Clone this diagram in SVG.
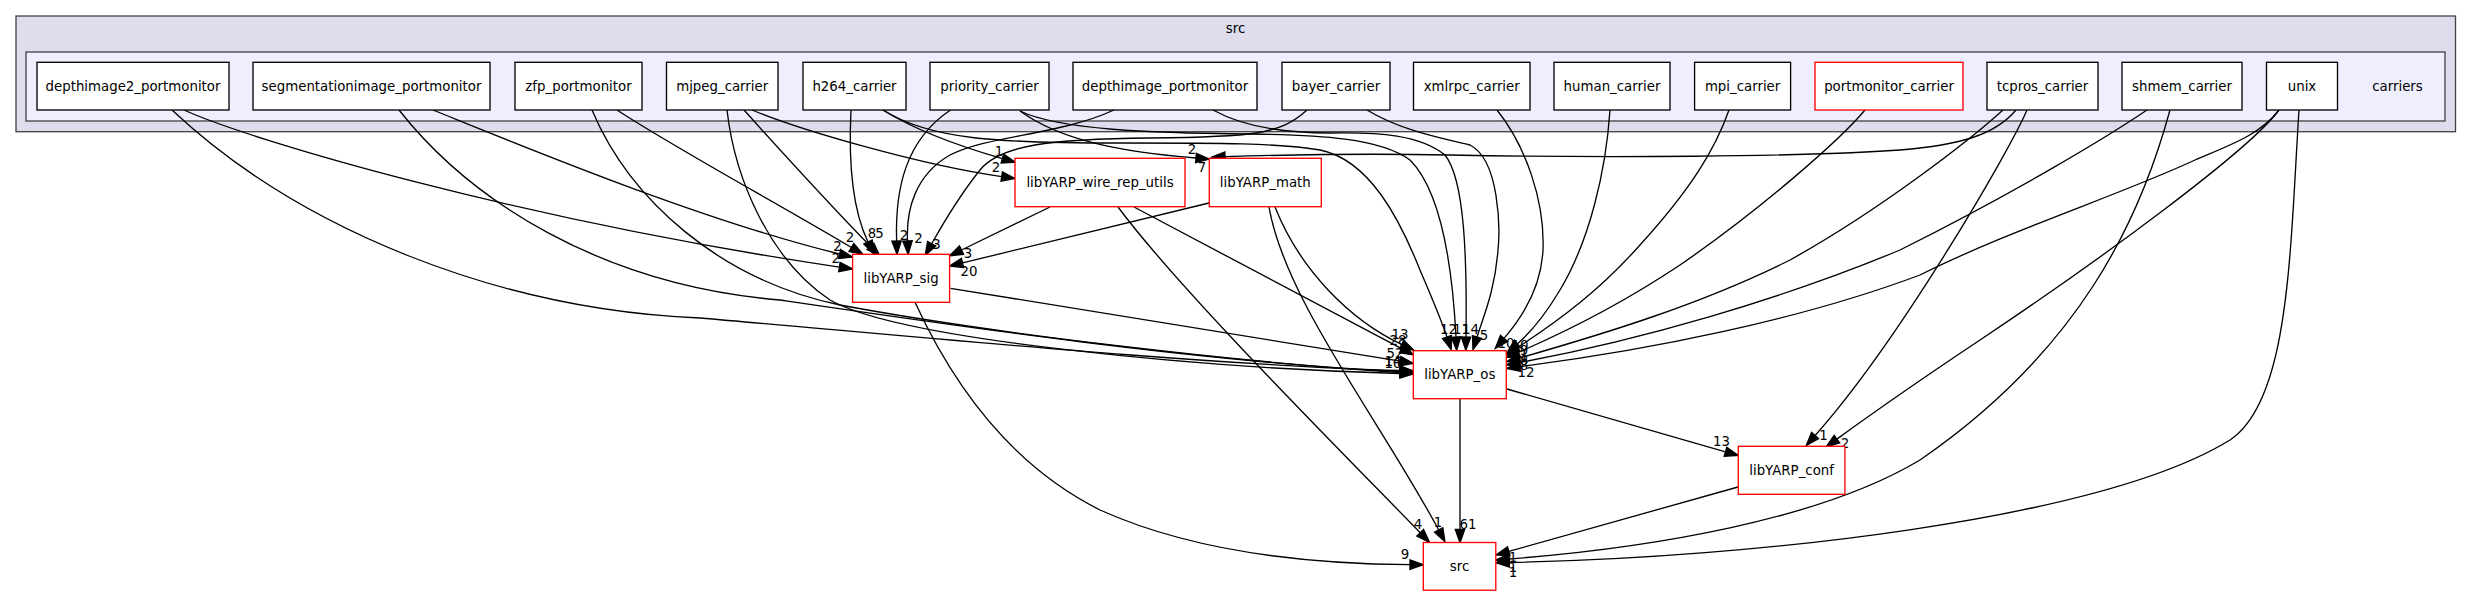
<svg xmlns="http://www.w3.org/2000/svg" width="2472" height="596" viewBox="0 0 2472 596">
<style>
text{font-family:"DejaVu Sans",Verdana,sans-serif;font-size:13.33px;fill:#000}
.n text,.c{text-anchor:middle}
.b{fill:#fff;stroke:#000;stroke-width:1.33}
.r{fill:#fff;stroke:#ff0000;stroke-width:1.33}
.e path{fill:none;stroke:#000;stroke-width:1.33;marker-end:url(#ah)}
.l text{text-anchor:middle}
</style>
<defs>
<marker id="ah" markerUnits="userSpaceOnUse" markerWidth="16" markerHeight="12" refX="0" refY="0" orient="auto" viewBox="0 -6 16 12" overflow="visible">
<path d="M0,-4.7 L13.3,0 L0,4.7 z" fill="#000" stroke="#000" stroke-width="1.33"/>
</marker>
</defs>
<rect width="2472" height="596" fill="#fff"/>
<g id="cluster_src">
<rect x="16" y="16" width="2439.5" height="115.7" fill="#ddddee" stroke="#444" stroke-width="1.33"/>
<text class="c" x="1235.6" y="33">src</text>
</g>
<g id="cluster_carriers">
<rect x="26" y="52" width="2419" height="69" fill="#eeeeff" stroke="#444" stroke-width="1.33"/>
<text class="c" x="2397.5" y="91">carriers</text>
</g>
<g class="e" id="edges">
<!-- into libYARP_sig -->
<path d="M184,110 C250,140 520,220 839.4,267.1"/>
<path d="M433,110 C520,145 700,220 839.6,254"/>
<path d="M617,110 C670,145 780,205 851.4,247.5"/>
<path d="M744,110 C780,150 840,215 870.4,246.3"/>
<path d="M851,110 C848,170 855,215 868,242"/>
<path d="M950.6,110 C905,140 895,190 896.6,241"/>
<path d="M1114,110 C1060,135 990,135 950,155 C915,175 906,210 907.5,241"/>
<path d="M1307,110 C1280,135 1250,137 1150,138 C1050,139 1000,145 980,170 C960,195 945,220 931.7,243.8"/>
<path d="M1050,207 L961.5,250"/>
<path d="M1209,203 L962.5,262.9"/>
<!-- into wire_rep_utils -->
<path d="M883,110 C915,130 955,145 1002.4,158.6"/>
<path d="M752,110 C800,130 920,165 1001.7,176.6"/>
<!-- into math -->
<path d="M1020,111 C1060,140 1120,152 1196,158"/>
<path d="M2016,110 C1995,135 1960,145 1900,150 C1800,157 1600,158 1450,155 C1350,153 1280,155 1225,156.7"/>
<!-- into libYARP_os left -->
<path d="M1275,207 C1300,270 1350,320 1401.7,344.4"/>
<path d="M1134,207 L1401.6,348.7"/>
<path d="M950.6,288.3 L1400.2,361.2"/>
<path d="M172,110 C300,230 500,310 700,318 C900,335 1200,365 1400,370.5"/>
<path d="M399,110 C470,200 600,285 780,300 C950,325 1200,362 1400,371.5"/>
<path d="M592,110 C630,200 720,280 840,305 C1000,335 1250,363 1400,372.5"/>
<path d="M727,110 C735,180 770,260 830,300 C900,340 1200,368 1400,373.5"/>
<!-- into libYARP_os top -->
<path d="M883,110 C930,140 1000,143 1120,143 C1220,143 1280,143 1320,150 C1370,160 1400,220 1420,270 C1435,305 1443,325 1447,337"/>
<path d="M1020,111 C1060,130 1150,133 1250,134 C1320,135 1380,138 1410,160 C1440,190 1452,260 1456,337"/>
<path d="M1213,110 C1240,125 1280,133 1330,133 C1380,132 1420,135 1445,155 C1465,180 1467,260 1466,337"/>
<path d="M1367,110 C1400,130 1440,138 1470,145 C1500,160 1500,230 1498,250 C1495,290 1484,315 1477,337"/>
<!-- into libYARP_os right -->
<path d="M1497,110 C1525,145 1545,200 1543,250 C1541,290 1520,320 1504,338.4"/>
<path d="M1610,110 C1606,170 1590,240 1560,290 C1545,315 1530,333 1517.4,343.8"/>
<path d="M1729,110 C1715,150 1690,190 1640,245 C1600,290 1560,320 1517.6,347.5"/>
<path d="M1865,110 C1840,140 1760,210 1680,265 C1620,305 1570,330 1518.4,352.3"/>
<path d="M2003,110 C1970,140 1880,210 1790,260 C1700,305 1600,335 1519.5,358"/>
<path d="M2147,110 C2110,135 2020,190 1900,250 C1780,300 1640,340 1519.8,362.5"/>
<path d="M2279,110 C2260,135 2230,145 2195,160 C2120,195 2010,230 1920,275 C1800,320 1650,350 1520,366.7"/>
<!-- into libYARP_conf -->
<path d="M1507,389 L1725.5,451.8"/>
<path d="M2027,110 C2010,150 1900,340 1815.1,435.5"/>
<path d="M2279,110 C2250,150 2100,260 1980,340 C1920,380 1870,415 1836.9,439.1"/>
<!-- into src -->
<path d="M1460,398.7 L1460,529.4"/>
<path d="M915,302.3 C960,400 1020,470 1100,510 C1200,555 1320,564 1410,564.6"/>
<path d="M1118,207 C1180,290 1330,440 1420.2,532.7"/>
<path d="M1269,207 C1285,300 1380,420 1438.7,530"/>
<path d="M1738,487 L1508.8,551.4"/>
<path d="M2170,110 C2140,220 2080,350 1920,460 C1820,520 1650,548 1509,559"/>
<path d="M2299,110 C2290,250 2290,400 2230,440 C2100,520 1750,558 1509.3,562.5"/>
</g>
<g class="l" id="edge_labels">
<text x="849.9" y="241.7">2</text>
<text x="837.4" y="250.7">2</text>
<text x="835.7" y="263.3">2</text>
<text x="871.9" y="238.3">8</text>
<text x="879.6" y="238.3">5</text>
<text x="904" y="240">2</text>
<text x="918.5" y="243.3">2</text>
<text x="936.4" y="249">3</text>
<text x="968" y="258.3">3</text>
<text x="969" y="275.7">20</text>
<text x="999" y="155.7">1</text>
<text x="996" y="171.7">2</text>
<text x="1192" y="154.3">2</text>
<text x="1202" y="171.7">7</text>
<text x="1400" y="339.3">13</text>
<text x="1398" y="345">28</text>
<text x="1395" y="357.7">52</text>
<text x="1393" y="368">10</text>
<text x="1393" y="366">14</text>
<text x="1448.6" y="334">12</text>
<text x="1461.5" y="334">11</text>
<text x="1470.6" y="334">14</text>
<text x="1484" y="340">5</text>
<text x="1506" y="348">10</text>
<text x="1520" y="350">10</text>
<text x="1524" y="355">9</text>
<text x="1524" y="360">1</text>
<text x="1524" y="365">8</text>
<text x="1524" y="370">8</text>
<text x="1526" y="376.7">12</text>
<text x="1721.4" y="445.7">13</text>
<text x="1823.5" y="440">1</text>
<text x="1845" y="447.7">2</text>
<text x="1468" y="529">61</text>
<text x="1405" y="559">9</text>
<text x="1418" y="529">4</text>
<text x="1438" y="526.7">1</text>
<text x="1513" y="561.7">1</text>
<text x="1513" y="571.7">1</text>
<text x="1513" y="576.7">1</text>
</g>
<g class="n" id="depthimage2_portmonitor"><rect class="b" x="37" y="62.3" width="192" height="47.7"/><text x="133" y="90.9">depthimage2_portmonitor</text></g>
<g class="n" id="segmentationimage_portmonitor"><rect class="b" x="253" y="62.3" width="237" height="47.7"/><text x="371.5" y="90.9">segmentationimage_portmonitor</text></g>
<g class="n" id="zfp_portmonitor"><rect class="b" x="515" y="62.3" width="127" height="47.7"/><text x="578.5" y="90.9">zfp_portmonitor</text></g>
<g class="n" id="mjpeg_carrier"><rect class="b" x="666.5" y="62.3" width="111.5" height="47.7"/><text x="722.2" y="90.9">mjpeg_carrier</text></g>
<g class="n" id="h264_carrier"><rect class="b" x="803" y="62.3" width="103" height="47.7"/><text x="854.5" y="90.9">h264_carrier</text></g>
<g class="n" id="priority_carrier"><rect class="b" x="930" y="62.3" width="119" height="47.7"/><text x="989.5" y="90.9">priority_carrier</text></g>
<g class="n" id="depthimage_portmonitor"><rect class="b" x="1073" y="62.3" width="184" height="47.7"/><text x="1165" y="90.9">depthimage_portmonitor</text></g>
<g class="n" id="bayer_carrier"><rect class="b" x="1282" y="62.3" width="108" height="47.7"/><text x="1336" y="90.9">bayer_carrier</text></g>
<g class="n" id="xmlrpc_carrier"><rect class="b" x="1413.5" y="62.3" width="116.5" height="47.7"/><text x="1471.7" y="90.9">xmlrpc_carrier</text></g>
<g class="n" id="human_carrier"><rect class="b" x="1554" y="62.3" width="116" height="47.7"/><text x="1612" y="90.9">human_carrier</text></g>
<g class="n" id="mpi_carrier"><rect class="b" x="1694.6" y="62.3" width="96" height="47.7"/><text x="1742.6" y="90.9">mpi_carrier</text></g>
<g class="n" id="portmonitor_carrier"><rect class="r" x="1815" y="62.3" width="148" height="47.7"/><text x="1889" y="90.9">portmonitor_carrier</text></g>
<g class="n" id="tcpros_carrier"><rect class="b" x="1987" y="62.3" width="111" height="47.7"/><text x="2042.5" y="90.9">tcpros_carrier</text></g>
<g class="n" id="shmem_carrier"><rect class="b" x="2122" y="62.3" width="120" height="47.7"/><text x="2182" y="90.9">shmem_carrier</text></g>
<g class="n" id="unix"><rect class="b" x="2266.5" y="62.3" width="71" height="47.7"/><text x="2302" y="90.9">unix</text></g>
<g class="n" id="libYARP_wire_rep_utils"><rect class="r" x="1015" y="158.3" width="170" height="48.4"/><text x="1100" y="187.2">libYARP_wire_rep_utils</text></g>
<g class="n" id="libYARP_math"><rect class="r" x="1209.3" y="158.3" width="112" height="48.4"/><text x="1265.3" y="187.2">libYARP_math</text></g>
<g class="n" id="libYARP_sig"><rect class="r" x="852.6" y="254.3" width="97" height="48"/><text x="901.1" y="283">libYARP_sig</text></g>
<g class="n" id="libYARP_os"><rect class="r" x="1413.3" y="350.7" width="93" height="48"/><text x="1459.8" y="379.4">libYARP_os</text></g>
<g class="n" id="libYARP_conf"><rect class="r" x="1738.3" y="446.3" width="106.6" height="48"/><text x="1791.6" y="475">libYARP_conf</text></g>
<g class="n" id="src"><rect class="r" x="1423.3" y="542.5" width="72.5" height="47.7"/><text x="1459.5" y="571.1">src</text></g>
</svg>
